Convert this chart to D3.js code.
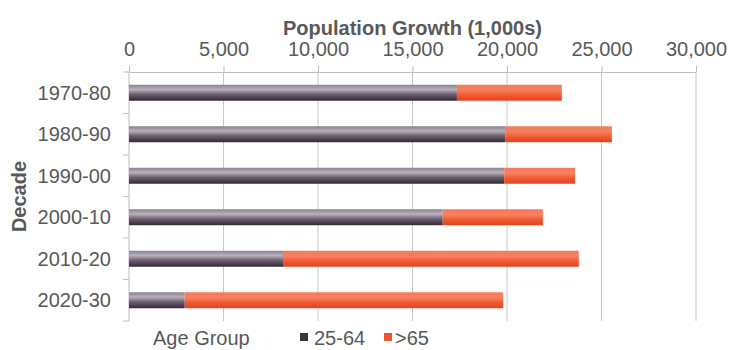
<!DOCTYPE html>
<html>
<head>
<meta charset="utf-8">
<script src="https://cdn.jsdelivr.net/npm/d3@7"></script>
<style>
	body { margin: 0; background: #fff; }
	text { font-family: "Liberation Sans", Arial, sans-serif; fill: #595959; }
</style>
</head>
<body>
<div id="container"></div>
<script>
const decades = ["1970-80", "1980-90", "1990-00", "2000-10", "2010-20", "2020-30"];
const working = [17350, 19900, 19850, 16600, 8150, 2950];   // 25-64
const seniors = [5550, 5650, 3750, 5300, 15650, 16850];     // >65
const xTicks = [0, 5000, 10000, 15000, 20000, 25000, 30000];
const seriesNames = ["25-64", ">65"];

const data = decades.map((d, i) => ({ decade: d, a: working[i], b: seniors[i] }));

function drawChart() {
	const width = 731;
	const height = 350;
	const margin = { top: 72, right: 35, bottom: 29, left: 129 };

	const svg = d3
		.select("#container")
		.append("svg")
		.attr("width", width)
		.attr("height", height);

	const x = d3
		.scaleLinear()
		.domain([0, 30000])
		.range([margin.left, width - margin.right]);

	const pad = 0.615;
	const y = d3
		.scaleBand()
		.domain(decades)
		.range([margin.top, height - margin.bottom])
		.paddingInner(pad)
		.paddingOuter(pad / 2);

	// gradients
	const defs = svg.append("defs");
	const gDark = defs.append("linearGradient").attr("id", "gDark").attr("x1", 0).attr("y1", 0).attr("x2", 0).attr("y2", 1);
	[["0%", "#8a8090"], ["30%", "#b9b1bc"], ["60%", "#6d6070"], ["100%", "#352737"]].forEach((s) =>
		gDark.append("stop").attr("offset", s[0]).attr("stop-color", s[1]));
	const gOrange = defs.append("linearGradient").attr("id", "gOrange").attr("x1", 0).attr("y1", 0).attr("x2", 0).attr("y2", 1);
	[["0%", "#f47a5a"], ["35%", "#f6805f"], ["65%", "#f05a33"], ["100%", "#e3441b"]].forEach((s) =>
		gOrange.append("stop").attr("offset", s[0]).attr("stop-color", s[1]));

	// gridlines
	svg.append("g")
		.selectAll("line")
		.data(xTicks.slice(1))
		.enter()
		.append("line")
		.attr("x1", (d) => x(d))
		.attr("x2", (d) => x(d))
		.attr("y1", margin.top)
		.attr("y2", height - margin.bottom)
		.attr("stroke", "#c6c6c6");

	// x axis (top)
	const xAxis = d3.axisTop(x)
		.tickValues(xTicks)
		.tickFormat(d3.format(","))
		.tickSize(6)
		.tickPadding(10)
		.tickSizeOuter(0);
	const gx = svg.append("g")
		.attr("transform", `translate(0, ${margin.top})`)
		.call(xAxis);
	gx.select(".domain").attr("stroke", "#bdbdbd");
	gx.selectAll(".tick line").attr("stroke", "#bdbdbd");
	gx.selectAll(".tick text").attr("font-size", 20).attr("fill", "#595959");

	// y axis with ticks at band boundaries
	const step = y.step();
	const offset = (step - y.bandwidth()) / 2;
	const bounds = decades.map((d) => y(d) - offset).concat([y(decades[decades.length - 1]) - offset + step]);
	const gy = svg.append("g");
	gy.append("line")
		.attr("x1", x(0)).attr("x2", x(0))
		.attr("y1", margin.top).attr("y2", height - margin.bottom)
		.attr("stroke", "#bdbdbd");
	gy.selectAll(".btick")
		.data(bounds)
		.enter()
		.append("line")
		.attr("x1", x(0) - 6).attr("x2", x(0))
		.attr("y1", (d) => d).attr("y2", (d) => d)
		.attr("stroke", "#bdbdbd");
	gy.selectAll(".ylab")
		.data(decades)
		.enter()
		.append("text")
		.attr("x", x(0) - 18)
		.attr("y", (d) => y(d) + y.bandwidth() / 2)
		.attr("dy", "0.35em")
		.attr("text-anchor", "end")
		.attr("font-size", 20)
		.text((d) => d);

	// bars
	const bars = svg.append("g");
	bars.selectAll(".barA")
		.data(data)
		.enter()
		.append("rect")
		.attr("x", x(0))
		.attr("y", (d) => y(d.decade))
		.attr("width", (d) => x(d.a) - x(0))
		.attr("height", y.bandwidth())
		.attr("fill", "url(#gDark)");
	bars.selectAll(".barB")
		.data(data)
		.enter()
		.append("rect")
		.attr("x", (d) => x(d.a))
		.attr("y", (d) => y(d.decade))
		.attr("width", (d) => x(d.a + d.b) - x(d.a))
		.attr("height", y.bandwidth())
		.attr("fill", "url(#gOrange)");

	// titles
	svg.append("text")
		.attr("x", (x(0) + x(30000)) / 2)
		.attr("y", 35)
		.attr("text-anchor", "middle")
		.attr("font-size", 20)
		.attr("font-weight", "bold")
		.text("Population Growth (1,000s)");

	svg.append("text")
		.attr("transform", `translate(26, ${(margin.top + height - margin.bottom) / 2}) rotate(-90)`)
		.attr("text-anchor", "middle")
		.attr("font-size", 20)
		.attr("font-weight", "bold")
		.text("Decade");

	// legend
	const legend = svg.append("g").attr("transform", "translate(0, 345)");
	legend.append("text").attr("x", 153).attr("y", 0).attr("font-size", 20).text("Age Group");
	const items = [
		{ name: seriesNames[0], color: "#3f3442", sx: 300, tx: 314 },
		{ name: seriesNames[1], color: "#f0552d", sx: 384, tx: 395 },
	];
	items.forEach((it) => {
		legend.append("rect").attr("x", it.sx).attr("y", -12).attr("width", 8).attr("height", 8).attr("fill", it.color);
		legend.append("text").attr("x", it.tx).attr("y", 0).attr("font-size", 20).text(it.name);
	});
}

drawChart();
</script>
</body>
</html>
